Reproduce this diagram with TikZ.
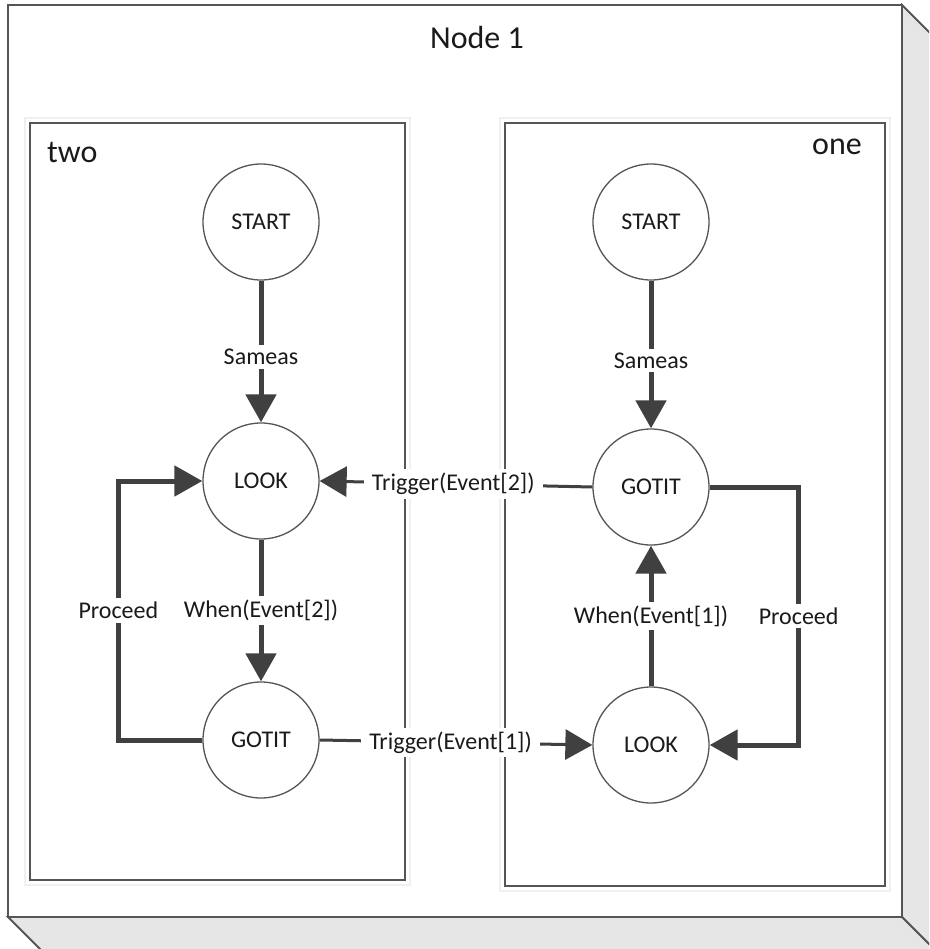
\documentclass[tikz,border=0pt]{standalone}
\usepackage{fontspec}
\setmainfont{Carlito}
\usetikzlibrary{arrows.meta}
\definecolor{edgecol}{HTML}{404040}
\definecolor{framecol}{HTML}{555555}
\definecolor{inkcol}{HTML}{1A1A1A}
\definecolor{sidecol}{HTML}{E6E6E6}
\tikzset{
  state/.style={circle, draw=framecol, line width=1.3pt, fill=white,
    minimum size=116pt, inner sep=0pt, text=inkcol,
    font=\fontsize{24}{28}\selectfont},
  flow/.style={draw=edgecol, line width=5pt,
    -{Triangle[length=28pt,width=30pt]}},
  signal/.style={draw=edgecol, line width=3pt,
    -{Triangle[length=27pt,width=30pt]}},
  lbl/.style={fill=white, inner sep=4pt, text=inkcol,
    font=\fontsize{24}{28}\selectfont},
  title/.style={text=inkcol, font=\fontsize{32}{36}\selectfont, inner sep=0pt},
  panel/.style={draw=framecol, line width=1.8pt},
  halo/.style={draw=black!6, line width=2pt}
}
\begin{document}
\begin{tikzpicture}[x=1pt,y=-1pt]
\useasboundingbox (0,0) rectangle (929,949);
\begin{scope}
\clip (0,0) rectangle (929,949);
% three-dimensional frame of the deployment node
\filldraw[fill=sidecol, draw=framecol, line width=1.8pt, line join=miter]
  (902,5) -- (940,43) -- (940,955) -- (902,917) -- cycle;
\filldraw[fill=sidecol, draw=framecol, line width=1.8pt]
  (8,917) -- (46,955) -- (940,955) -- (902,917) -- cycle;
\filldraw[fill=white, draw=framecol, line width=1.8pt] (8,5) rectangle (902,917);
\end{scope}
\node[title] (nodetitle) at (477,38) {Node 1};

% the two state machines
\draw[halo] (25,118) rectangle (410,885);
\draw[panel] (30,123) rectangle (405,880);
\draw[halo] (500,118) rectangle (890,891);
\draw[panel] (505,123) rectangle (885,886);
\node[title, anchor=base west] (twolbl) at (47,163) {two};
\node[title, anchor=base east] (onelbl) at (862,155) {one};

% states of machine "two"
\node[state] (lstart) at (261,222) {START};
\node[state] (llook)  at (261,481) {LOOK};
\node[state] (lgotit) at (261,740) {GOTIT};

% states of machine "one"
\node[state] (rstart) at (651,222) {START};
\node[state] (rgotit) at (651,487) {GOTIT};
\node[state] (rlook)  at (651,745) {LOOK};

% transitions inside "two"
\draw[flow] (lstart) -- node[lbl, pos=0.54] {Sameas} (llook);
\draw[flow] (llook) -- node[lbl, pos=0.5] {When(Event[2])} (lgotit);
\draw[flow] (lgotit.west) -- ++(-84,0) |- node[lbl, pos=0.25] {Proceed} (llook.west);

% transitions inside "one"
\draw[flow] (rstart) -- node[lbl, pos=0.54] {Sameas} (rgotit);
\draw[flow] (rlook) -- node[lbl, pos=0.5] {When(Event[1])} (rgotit);
\draw[flow] (rgotit.east) -- ++(89,0) |- node[lbl, pos=0.25] {Proceed} (rlook.east);

% triggers between the machines
\draw[signal] (rgotit.west) -- node[lbl, pos=0.51, inner xsep=8pt] {Trigger(Event[2])} (llook.east);
\draw[signal] (lgotit.east) -- node[lbl, pos=0.48, inner xsep=8pt] {Trigger(Event[1])} (rlook.west);
\end{tikzpicture}
\end{document}
